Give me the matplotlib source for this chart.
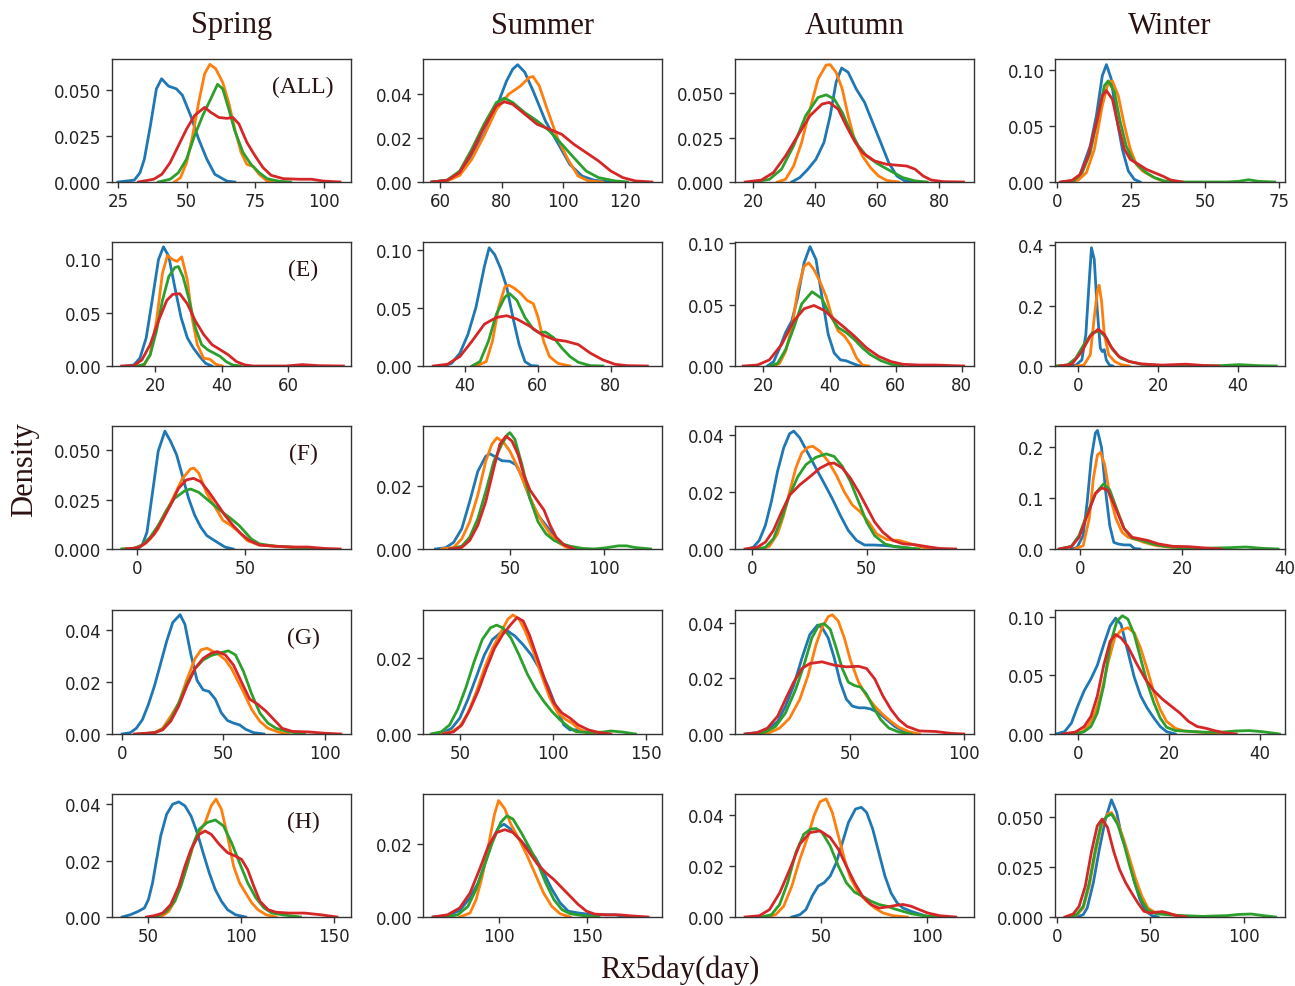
import matplotlib
matplotlib.use("Agg")
import matplotlib.pyplot as plt
from matplotlib.ticker import FormatStrFormatter

# KDE curves: each curve is (x values, density values)
# colour order in every panel: blue, orange, green, red

spring_all = {
    "blue": ([25, 30.9, 33, 34.6, 36.8, 39, 40.9, 43.4, 46.3, 48.5, 51.5, 54.4, 57.4, 60.3, 64.7, 67.6],
             [0, 0.001, 0.005, 0.0124, 0.0305, 0.0505, 0.056, 0.052, 0.0505, 0.047, 0.036, 0.0233, 0.0124, 0.0042, 0.0005, 0]),
    "orange": ([45.6, 47.8, 50, 52.2, 54.4, 56.6, 58.5, 60.6, 63.2, 65.4, 67.6, 69.9, 72, 74.3, 76.5, 79.4, 81.5],
               [0, 0.0024, 0.0105, 0.025, 0.043, 0.0587, 0.0638, 0.0615, 0.054, 0.043, 0.0287, 0.016, 0.0096, 0.0084, 0.0042, 0.0005, 0]),
    "green": ([39.7, 44, 47, 50, 52.9, 55.9, 58.8, 61.3, 63.2, 65.4, 67.6, 70.6, 73.5, 76.5, 79.4, 83.8, 88],
              [0, 0.0015, 0.005, 0.0124, 0.025, 0.036, 0.045, 0.053, 0.0505, 0.0396, 0.0278, 0.016, 0.0096, 0.0051, 0.0018, 0.0004, 0]),
    "red": ([32.4, 38, 41, 44, 47, 50, 52.9, 56.6, 58.8, 61.8, 64.7, 66.9, 69.1, 72, 75, 77.9, 80.9, 85.3, 91.2, 95.6, 100, 106],
            [0, 0.0015, 0.0042, 0.0105, 0.0196, 0.0287, 0.036, 0.0405, 0.0378, 0.035, 0.0345, 0.035, 0.0315, 0.0215, 0.0142, 0.0078, 0.0036, 0.0018, 0.0015, 0.0015, 0.0005, 0]),
}

summer_all = {
    "blue": ([57.4, 62.4, 66.4, 70.3, 74.3, 78.3, 81.6, 83.6, 85.2, 87.5, 90.2, 94.2, 98.1, 102.1, 106.1, 110, 115.4],
             [0, 0.0008, 0.0043, 0.0119, 0.0217, 0.034, 0.046, 0.0514, 0.0534, 0.050, 0.0415, 0.0278, 0.018, 0.008, 0.0027, 0.0008, 0]),
    "orange": ([57.4, 62.4, 66.4, 70.3, 74.3, 78.3, 82.3, 86.2, 88.9, 90.2, 92.2, 94.8, 98.1, 101.5, 104.8, 108.1, 112.7],
               [0, 0.0005, 0.003, 0.0103, 0.021, 0.033, 0.040, 0.0438, 0.0476, 0.048, 0.0438, 0.033, 0.020, 0.0103, 0.0027, 0.0005, 0]),
    "green": ([57.4, 62.4, 66.4, 70.3, 74.3, 78.3, 80.9, 83.6, 87.5, 91.5, 95.5, 99.5, 103.4, 107.4, 111.4, 116.7, 120.8],
              [0, 0.0009, 0.005, 0.0149, 0.0263, 0.0362, 0.0382, 0.0362, 0.0316, 0.0278, 0.0233, 0.0172, 0.0111, 0.005, 0.002, 0.0005, 0]),
    "red": ([57.4, 62.4, 66.4, 70.3, 74.3, 78.3, 80.9, 83.6, 87.5, 91.5, 95.5, 99.5, 103.4, 107.4, 111.4, 115.4, 119.3, 123.3, 128.7],
            [0, 0.0008, 0.0043, 0.0134, 0.0248, 0.0347, 0.0365, 0.0354, 0.0309, 0.0263, 0.024, 0.0217, 0.0172, 0.0134, 0.0096, 0.005, 0.002, 0.0005, 0]),
}

autumn_all = {
    "blue": ([32.4, 35, 37.6, 40.2, 42.8, 44.8, 46.7, 48.5, 50.6, 53.2, 55.9, 58.5, 61.1, 63.7, 66.3, 68.9, 71.5],
             [0, 0.0025, 0.0072, 0.0128, 0.0223, 0.0374, 0.0562, 0.0643, 0.0619, 0.0525, 0.0449, 0.0336, 0.0223, 0.0109, 0.0034, 0.0006, 0]),
    "orange": ([27.8, 30.4, 33, 35.6, 38.3, 40.9, 43.5, 44.8, 46.7, 48.7, 50.6, 52.6, 55.2, 57.8, 60.4, 63, 66.9],
               [0, 0.0015, 0.009, 0.0223, 0.0411, 0.0581, 0.066, 0.0662, 0.0619, 0.0525, 0.0374, 0.0242, 0.0147, 0.0081, 0.0034, 0.0009, 0]),
    "green": ([20, 25.2, 29.1, 33, 36.9, 40.9, 43.5, 46.1, 48.7, 51.3, 53.9, 56.5, 60.4, 64.3, 68.2, 72.2, 76.1],
              [0, 0.0015, 0.0072, 0.0204, 0.0374, 0.0477, 0.0492, 0.0468, 0.0392, 0.0289, 0.0204, 0.0147, 0.010, 0.0062, 0.0025, 0.0006, 0]),
    "red": ([17.4, 22.6, 26.5, 30.4, 34.3, 38.3, 42.2, 44.5, 47.4, 50, 52.6, 55.2, 59.1, 63, 67, 69.5, 72.2, 74.8, 77.4, 81.3, 87.8],
            [0, 0.0011, 0.0053, 0.0147, 0.026, 0.0374, 0.044, 0.0449, 0.0411, 0.0317, 0.0232, 0.0166, 0.0119, 0.010, 0.0094, 0.009, 0.0072, 0.0034, 0.0011, 0.0002, 0]),
}

winter_all = {
    "blue": ([4.3, 7.1, 9.1, 11.1, 13.2, 15.2, 16.6, 18.2, 19.9, 22, 24, 26, 28],
             [0, 0.0024, 0.0173, 0.032, 0.059, 0.0946, 0.1045, 0.092, 0.059, 0.029, 0.0098, 0.0024, 0]),
    "orange": ([3.7, 7.1, 9.8, 12.5, 15.2, 17.2, 18.6, 20.6, 22.7, 24.7, 26.7, 28.8, 30.8, 32.8, 35.5, 38.2],
               [0, 0.0018, 0.0083, 0.029, 0.068, 0.0887, 0.090, 0.0768, 0.05, 0.029, 0.0158, 0.0098, 0.0068, 0.0039, 0.0009, 0]),
    "green": ([1.6, 5.7, 8.4, 11.1, 13.8, 15.9, 17.2, 19.3, 21.3, 23.3, 25.4, 27.4, 30.1, 32.8, 36.2, 41, 57.3, 61.3, 64.7, 68.1, 73.5],
              [0, 0.0015, 0.0083, 0.026, 0.059, 0.0857, 0.090, 0.080, 0.053, 0.032, 0.020, 0.0143, 0.0083, 0.0039, 0.0009, 0, 0, 0.0006, 0.002, 0.0006, 0]),
    "red": ([1, 5, 7.7, 10.4, 13.2, 15.2, 16.6, 18.6, 20.6, 22.7, 24.7, 27.4, 30.1, 32.8, 35.5, 38.3, 42.3],
            [0, 0.0015, 0.0068, 0.023, 0.053, 0.0768, 0.0813, 0.0738, 0.05, 0.029, 0.020, 0.0158, 0.0113, 0.0083, 0.0054, 0.0018, 0]),
}

spring_e = {
    "blue": ([11.1, 13.6, 15.4, 17.3, 19.1, 21, 22.5, 24.1, 25.9, 27.8, 29.7, 31.5, 33.4, 35.2, 37.1],
             [0, 0.001, 0.0073, 0.0263, 0.0613, 0.0994, 0.1114, 0.1025, 0.074, 0.0454, 0.0263, 0.0168, 0.0089, 0.0025, 0]),
    "orange": ([14.8, 16.7, 18.5, 20.4, 22.2, 23.7, 25.3, 26.6, 28, 29.7, 31.1, 32.7, 34.6, 36.5, 38.3, 40.2],
               [0, 0.001, 0.0105, 0.042, 0.0867, 0.1032, 0.0994, 0.0978, 0.102, 0.0803, 0.0454, 0.02, 0.0073, 0.0063, 0.0016, 0]),
    "green": ([14.8, 16.7, 18.5, 20.4, 22.2, 24.1, 25.9, 27, 28.4, 30.3, 32.1, 34, 35.8, 37.7, 39.6, 41.4, 43.3, 45.7],
              [0, 0.0016, 0.0105, 0.0327, 0.0613, 0.0835, 0.092, 0.093, 0.0835, 0.0613, 0.0359, 0.02, 0.0152, 0.0121, 0.0089, 0.0041, 0.001, 0]),
    "red": ([9.9, 13.6, 16, 18.5, 21, 23.5, 25.3, 27.4, 29.7, 32.1, 34.6, 37.1, 39.6, 42, 44.5, 47, 49.5, 59.4, 64.3, 69.3, 76.7],
            [0, 0.0003, 0.0057, 0.02, 0.0422, 0.0613, 0.067, 0.0676, 0.0581, 0.0422, 0.0295, 0.02, 0.0152, 0.0105, 0.0041, 0.001, 0, 0, 0.0013, 0.0003, 0]),
}

summer_e = {
    "blue": ([34.2, 36.4, 38.7, 40.9, 43.1, 45.4, 46.7, 48.2, 49.8, 51.5, 53.2, 54.9, 56.5, 58.2, 59.9],
             [0, 0.0023, 0.0111, 0.0273, 0.0507, 0.0859, 0.102, 0.0962, 0.0845, 0.0683, 0.0419, 0.0185, 0.0038, 0.0003, 0]),
    "orange": ([43.2, 45.9, 47.6, 49.3, 51, 52.1, 53.7, 55.4, 57.1, 58.8, 60.1, 61.6, 63.2, 65.5, 68.8],
               [0, 0.0038, 0.0214, 0.0507, 0.0683, 0.0698, 0.0669, 0.0625, 0.0566, 0.0537, 0.0419, 0.0214, 0.0082, 0.0023, 0]),
    "green": ([42, 44.2, 46.5, 48.7, 51, 52.3, 54.3, 56.5, 58.8, 60.4, 62.1, 64.4, 66.6, 68.8, 71.1, 74.4, 77.8],
              [0, 0.0038, 0.0214, 0.0449, 0.0595, 0.0625, 0.0566, 0.0419, 0.0317, 0.0287, 0.0293, 0.0243, 0.0155, 0.0082, 0.0032, 0.0003, 0]),
    "red": ([31.4, 35.3, 38.7, 42, 45.4, 48.7, 51.5, 54.3, 57.7, 61, 64.4, 67.7, 71.1, 74.4, 77.8, 81.1, 84.5, 90],
            [0, 0.0015, 0.0082, 0.0214, 0.0361, 0.0419, 0.0434, 0.0405, 0.0346, 0.0273, 0.0229, 0.0214, 0.0185, 0.0111, 0.0053, 0.0015, 0.0003, 0]),
}

autumn_e = {
    "blue": ([21.2, 23.1, 24.9, 26.7, 28.6, 30.4, 32.3, 34.1, 35.9, 37.7, 39.6, 41.4, 43.3, 45.1, 46.9, 48.8, 50.6],
             [0, 0.0036, 0.0147, 0.0272, 0.0369, 0.0564, 0.0842, 0.0975, 0.0869, 0.0564, 0.0258, 0.0106, 0.005, 0.0042, 0.0022, 0.0003, 0]),
    "orange": ([23.1, 24.9, 26.7, 28.6, 30.4, 32.3, 33.7, 35.3, 37.1, 39, 40.8, 42.6, 44.5, 46.3, 48.2, 50, 51.8],
               [0, 0.0022, 0.0119, 0.0314, 0.0619, 0.0814, 0.0842, 0.0786, 0.0689, 0.0564, 0.0397, 0.0286, 0.0244, 0.0175, 0.0064, 0.0008, 0]),
    "green": ([21.8, 24.3, 26.7, 29.2, 31.6, 34.7, 37.7, 40.2, 42.6, 45.1, 47.5, 50, 52.4, 55.5, 58.6, 62.2],
              [0, 0.0022, 0.0133, 0.0314, 0.0508, 0.0606, 0.055, 0.0411, 0.0314, 0.0272, 0.0217, 0.0147, 0.0092, 0.0044, 0.0014, 0]),
    "red": ([13.9, 18.2, 21.8, 25.5, 29.2, 32.3, 35.3, 38.4, 41.4, 44.5, 47.5, 51.2, 54.9, 58.6, 62.2, 67.1, 72, 76.9, 80.6],
            [0, 0.0008, 0.005, 0.0175, 0.0369, 0.0467, 0.0494, 0.0453, 0.0383, 0.0314, 0.0244, 0.0147, 0.0078, 0.0036, 0.0014, 0.0008, 0.0008, 0.0003, 0]),
}

winter_e = {
    "blue": ([-2, -0.5, 1, 2, 2.8, 3.4, 4.1, 4.8, 5.6, 6.1, 6.6, 7.1, 7.9, 8.7],
             [0, 0.003, 0.02, 0.105, 0.274, 0.392, 0.353, 0.195, 0.06, 0.048, 0.054, 0.02, 0.003, 0]),
    "orange": ([-0.5, 1.5, 3.1, 4.1, 4.9, 5.3, 5.9, 6.6, 7.7, 9.2, 10.7, 12.8],
               [0, 0.003, 0.037, 0.161, 0.25, 0.268, 0.217, 0.105, 0.037, 0.015, 0.005, 0]),
    "green": ([-6.1, -2.6, -0.5, 1.5, 3.6, 5.4, 7.1, 8.7, 10.7, 12.8, 15.8, 19.9, 25, 35.2, 40.3, 45.4, 49.5],
              [0, 0.003, 0.026, 0.071, 0.11, 0.116, 0.094, 0.054, 0.026, 0.015, 0.006, 0.002, 0.001, 0.001, 0.0045, 0.001, 0]),
    "red": ([-4.6, -1.5, 1, 3.1, 5.1, 6.6, 8.2, 10.2, 12.8, 15.8, 20.9, 27, 31.1, 35.2],
            [0, 0.006, 0.048, 0.099, 0.122, 0.105, 0.065, 0.032, 0.015, 0.007, 0.003, 0.006, 0.002, 0]),
}

spring_f = {
    "blue": ([0, 2.2, 4.5, 6.9, 9.7, 12.8, 15.4, 18.2, 21, 23.8, 26.6, 29.4, 32.2, 35, 37.8, 40.6, 44.4],
             [0, 0.0017, 0.0085, 0.0273, 0.0495, 0.0597, 0.0546, 0.0478, 0.0367, 0.0256, 0.0171, 0.0111, 0.0068, 0.0048, 0.0029, 0.001, 0]),
    "orange": ([-7.1, -1.5, 2.2, 6, 9.7, 13.5, 17.2, 21, 24.7, 26.2, 28.5, 32.2, 36, 39.7, 43.4, 47.2, 50.9, 56.6, 64, 71.5, 79, 86.5],
               [0, 0.0003, 0.0017, 0.0051, 0.0102, 0.0188, 0.0273, 0.0358, 0.0406, 0.041, 0.0384, 0.0282, 0.0213, 0.0145, 0.0119, 0.0085, 0.0043, 0.002, 0.0014, 0.0009, 0.0003, 0]),
    "green": ([-7.1, -1.5, 2.2, 6, 9.7, 13.5, 17.2, 21.9, 24.7, 28.5, 32.2, 36, 39.7, 43.4, 47.2, 50, 52.8, 56.6, 64, 75.3, 86.5],
              [0, 0.0003, 0.002, 0.006, 0.0119, 0.0196, 0.0256, 0.0294, 0.0304, 0.0287, 0.0253, 0.0218, 0.0184, 0.0154, 0.0119, 0.0085, 0.0051, 0.0026, 0.0014, 0.0007, 0]),
    "red": ([-5.2, 0.4, 4.1, 7.9, 11.6, 15.4, 19.1, 22.8, 26, 29.4, 33.1, 36.9, 40.6, 44.4, 48.1, 51.9, 56.6, 64, 71.5, 79, 86.5, 94],
            [0, 0.0007, 0.0031, 0.0077, 0.0145, 0.0222, 0.0307, 0.035, 0.0358, 0.0341, 0.029, 0.023, 0.0171, 0.0119, 0.0077, 0.0043, 0.002, 0.0014, 0.001, 0.001, 0.0003, 0]),
}

summer_f = {
    "blue": ([10.6, 16, 20.2, 24.5, 28.7, 33, 37.2, 39.4, 42.6, 45.7, 50, 53.2, 56.4, 60.6, 64.9, 69.1, 73.4, 77.7, 81.9, 86.2],
             [0, 0.0004, 0.0021, 0.0064, 0.015, 0.0246, 0.0294, 0.0302, 0.0291, 0.028, 0.0278, 0.0267, 0.023, 0.016, 0.0107, 0.0075, 0.0043, 0.0016, 0.0005, 0]),
    "orange": ([13.8, 20.2, 24.5, 28.7, 33, 37.2, 40.4, 43.2, 46.8, 50, 54.3, 58.5, 62.8, 67, 71.3, 75.5, 79.8, 84],
               [0, 0.0005, 0.0032, 0.0086, 0.0171, 0.0278, 0.0332, 0.0353, 0.0337, 0.031, 0.0257, 0.0193, 0.0134, 0.0086, 0.0048, 0.0021, 0.0006, 0]),
    "green": ([18.1, 24.5, 28.7, 33, 37.2, 41.5, 45.7, 48.9, 50, 52.6, 56.4, 60.6, 64.9, 69.1, 73.4, 77.7, 81.9, 88.3, 94.7, 101.1, 107.4, 111.7, 116, 124.5],
              [0, 0.0009, 0.0037, 0.0096, 0.0182, 0.0278, 0.0332, 0.0364, 0.0369, 0.0348, 0.0267, 0.016, 0.0086, 0.0048, 0.0027, 0.0016, 0.0009, 0.0002, 0, 0.0004, 0.001, 0.001, 0.0005, 0]),
    "red": ([18.1, 24.5, 28.7, 33, 37.2, 41.5, 44.7, 47.9, 51.1, 54.3, 57.4, 60.6, 64.9, 68.1, 71.3, 74.5, 78.7, 84],
            [0, 0.0005, 0.0027, 0.0075, 0.015, 0.0257, 0.0332, 0.0358, 0.0342, 0.030, 0.0235, 0.0187, 0.015, 0.0123, 0.0075, 0.0037, 0.0013, 0]),
}

autumn_f = {
    "blue": ([-2.3, 0.4, 3, 5.7, 8.3, 11, 13.7, 16.3, 18.1, 20.7, 24.3, 27.8, 31.4, 34.9, 38.5, 42, 45.6, 49.1, 53.5, 58, 62.4, 66.8, 71.3],
             [0, 0.0006, 0.003, 0.0083, 0.0166, 0.0272, 0.0355, 0.0405, 0.0414, 0.0391, 0.0337, 0.0284, 0.0231, 0.0178, 0.0118, 0.0065, 0.003, 0.0014, 0.0014, 0.0012, 0.0009, 0.0005, 0]),
    "orange": ([3.9, 7.4, 11, 13.7, 16.3, 19, 21.6, 24.3, 26.4, 29.6, 33.2, 36.7, 40.2, 43.8, 47.3, 50.9, 54.4, 58.9, 64.2, 69.5, 74.8, 80.1],
               [0, 0.0009, 0.0053, 0.0118, 0.0201, 0.0284, 0.0337, 0.0357, 0.0361, 0.0343, 0.0308, 0.026, 0.0201, 0.0154, 0.013, 0.0095, 0.0053, 0.0033, 0.003, 0.0018, 0.0005, 0]),
    "green": ([2.1, 5.7, 9.2, 12.8, 16.3, 19.9, 23.4, 27.8, 32.3, 35.8, 39.4, 42.9, 46.5, 50, 53.5, 58, 62.4, 67.7, 73],
              [0, 0.0006, 0.0036, 0.0107, 0.0189, 0.0254, 0.0296, 0.0322, 0.0334, 0.0325, 0.029, 0.0237, 0.0166, 0.0095, 0.0047, 0.0018, 0.0008, 0.0004, 0]),
    "red": ([-3.2, 2.1, 5.7, 9.2, 12.8, 16.3, 20.7, 25.2, 29.6, 33.2, 35.8, 39.4, 42.9, 46.5, 50, 53.5, 57.1, 61.5, 66, 71.3, 76.6, 81.9, 89],
            [0, 0.0006, 0.0024, 0.0065, 0.013, 0.0189, 0.0225, 0.0254, 0.0284, 0.0299, 0.0302, 0.0284, 0.0249, 0.0201, 0.0148, 0.0095, 0.0059, 0.003, 0.0018, 0.0015, 0.0008, 0.0002, 0]),
}

winter_f = {
    "blue": ([-1.7, -0.6, 0.6, 1.4, 2.2, 3, 3.4, 4.2, 5, 5.8, 6.6, 7.4, 8.6, 9.8, 10.6, 11.7],
             [0, 0.003, 0.0265, 0.093, 0.179, 0.228, 0.233, 0.199, 0.113, 0.046, 0.013, 0.01, 0.008, 0.008, 0.001, 0]),
    "orange": ([-1, 0.6, 1.8, 2.6, 3.4, 4, 4.8, 5.8, 7, 8.2, 9.4, 11, 12.5, 14.9, 18.1, 21.3, 24.4],
               [0, 0.0066, 0.06, 0.139, 0.185, 0.19, 0.166, 0.106, 0.06, 0.033, 0.023, 0.0185, 0.013, 0.0066, 0.003, 0.0026, 0]),
    "green": ([-4.1, -1.7, -0.2, 1.4, 3, 4.6, 5.8, 7, 8.6, 10.2, 12.1, 14.1, 16.5, 19.7, 23.7, 29.2, 32.4, 35.6, 38.7],
              [0, 0.0053, 0.0265, 0.0695, 0.109, 0.128, 0.116, 0.083, 0.04, 0.021, 0.0166, 0.01, 0.0053, 0.0026, 0.0013, 0.0026, 0.004, 0.0013, 0]),
    "red": ([-4.1, -1.7, -0.2, 1.4, 3, 4.2, 5.4, 7, 8.6, 10.2, 11.7, 13.3, 15.3, 18.1, 21.3, 24.4, 27.6],
            [0, 0.0046, 0.023, 0.066, 0.109, 0.12, 0.116, 0.079, 0.04, 0.023, 0.02, 0.0166, 0.01, 0.0053, 0.0046, 0.002, 0]),
}

spring_g = {
    "blue": ([0, 4, 7, 10, 13, 16, 19, 22, 25, 28.6, 31, 34, 37, 40, 43, 46, 49, 52, 55, 58, 61, 65, 70],
             [0, 0.0005, 0.0022, 0.0055, 0.0114, 0.0186, 0.0271, 0.0357, 0.0429, 0.0459, 0.0422, 0.0304, 0.0206, 0.017, 0.0163, 0.0134, 0.0081, 0.0052, 0.0042, 0.0035, 0.0018, 0.0005, 0]),
    "orange": ([10, 16, 20, 24, 28, 32, 36, 39, 42, 45, 48, 51, 54, 57, 60, 64, 68, 72, 77, 82],
               [0, 0.0005, 0.0022, 0.0068, 0.012, 0.021, 0.029, 0.0324, 0.033, 0.0317, 0.0304, 0.0285, 0.0252, 0.0206, 0.016, 0.0094, 0.0049, 0.0022, 0.0008, 0]),
    "green": ([8, 16, 20, 24, 28, 32, 36, 40, 44, 48, 52.5, 56, 60, 64, 68, 72, 76, 82, 90],
              [0, 0.0005, 0.0018, 0.0055, 0.012, 0.0193, 0.0252, 0.0285, 0.0302, 0.0311, 0.032, 0.0304, 0.0239, 0.0153, 0.0081, 0.0042, 0.0022, 0.0009, 0]),
    "red": ([6, 16, 20, 24, 28, 32, 36, 40, 44, 47, 51, 55, 59, 63, 67, 71, 75, 79, 84, 92, 100, 108],
            [0, 0.0005, 0.0016, 0.0049, 0.0108, 0.0186, 0.0252, 0.0291, 0.0311, 0.0317, 0.0304, 0.0265, 0.0199, 0.0134, 0.0114, 0.0088, 0.0055, 0.0022, 0.001, 0.0008, 0.0003, 0]),
}

summer_g = {
    "blue": ([35.7, 41.2, 45.6, 50, 54.4, 58.8, 63.2, 67.6, 72, 75.3, 79.7, 84.1, 88.5, 92.9, 97.3, 101.6, 106, 109.3, 113.7, 119.2, 124.7],
             [0, 0.0004, 0.0015, 0.0042, 0.0092, 0.015, 0.0209, 0.025, 0.0268, 0.0274, 0.0259, 0.0236, 0.0209, 0.0173, 0.0128, 0.0074, 0.0024, 0.0011, 0.0011, 0.0004, 0]),
    "orange": ([40.1, 45.6, 50, 54.4, 58.8, 63.2, 67.6, 72, 75.9, 78.6, 81.9, 85.2, 89.6, 94, 98.4, 102.7, 107.1, 110.4, 113.7, 118.1, 123.6],
               [0, 0.0006, 0.002, 0.0056, 0.011, 0.0173, 0.0227, 0.0268, 0.0304, 0.0315, 0.0304, 0.0272, 0.0218, 0.0155, 0.0096, 0.0056, 0.0038, 0.0029, 0.0015, 0.0004, 0]),
    "green": ([34.6, 40.1, 44.5, 48.9, 53.3, 57.7, 62.1, 66.5, 69.8, 73.1, 77.5, 81.9, 86.3, 90.7, 95.1, 99.5, 103.8, 108.2, 112.6, 119.2, 126.9, 131.3, 137.9, 144.5],
              [0, 0.0006, 0.0024, 0.0065, 0.0123, 0.0191, 0.025, 0.0281, 0.0288, 0.0281, 0.0254, 0.0209, 0.0159, 0.0119, 0.0087, 0.006, 0.0038, 0.002, 0.0006, 0.0004, 0.0005, 0.0008, 0.0005, 0]),
    "red": ([41.2, 46.7, 51.1, 55.5, 59.9, 64.3, 68.7, 73.1, 77.5, 80.8, 84.1, 87.4, 91.8, 96.2, 100.5, 104.9, 109.3, 113.7, 119.2, 124.7, 131.3],
            [0, 0.0006, 0.0024, 0.0065, 0.0114, 0.0173, 0.0227, 0.0263, 0.029, 0.0308, 0.0299, 0.0263, 0.020, 0.0137, 0.0083, 0.0056, 0.0042, 0.0024, 0.0011, 0.0004, 0]),
}

autumn_g = {
    "blue": ([3.6, 8.9, 13.4, 17.9, 21.4, 25, 28.6, 32.1, 35.5, 37.5, 40.2, 42.9, 45.5, 48.2, 50.9, 53.6, 56.3, 58.9, 62.5, 66.1, 69.6, 73.2, 78.6],
             [0, 0.0005, 0.0015, 0.0045, 0.01, 0.0174, 0.0272, 0.0357, 0.0391, 0.0382, 0.0345, 0.0272, 0.0186, 0.0125, 0.010, 0.0094, 0.0094, 0.009, 0.0076, 0.0051, 0.0027, 0.0011, 0]),
    "orange": ([8.9, 14.3, 18.75, 23.2, 27.7, 31.3, 34.8, 37.5, 40.2, 42, 44.6, 47.3, 50, 53.6, 57.1, 60.7, 64.3, 67.9, 71.4, 75.9, 80.4],
               [0, 0.0005, 0.0021, 0.0057, 0.0125, 0.021, 0.032, 0.0382, 0.0421, 0.0428, 0.0406, 0.0345, 0.0265, 0.0186, 0.0137, 0.010, 0.007, 0.0045, 0.0024, 0.0008, 0]),
    "green": ([7.1, 12.5, 17, 21.4, 25.9, 29.5, 33, 36.1, 38.4, 41.1, 43.75, 46.4, 49.1, 51.8, 54.5, 57.1, 59.8, 63.4, 67, 71.4, 76.8],
              [0, 0.0007, 0.0027, 0.0076, 0.0161, 0.0247, 0.0345, 0.0391, 0.0396, 0.0376, 0.0308, 0.0235, 0.0186, 0.0174, 0.0168, 0.0143, 0.010, 0.0051, 0.0021, 0.0007, 0]),
    "red": ([3.6, 8.9, 13.4, 17.9, 21.4, 25, 28.6, 32.1, 37.5, 42.9, 48.2, 53.6, 57.1, 60.7, 64.3, 67.9, 71.4, 75, 80.4, 87.5, 94.6, 100],
            [0, 0.0005, 0.0021, 0.0064, 0.0125, 0.0186, 0.0235, 0.0253, 0.0259, 0.0247, 0.0241, 0.0243, 0.0235, 0.0198, 0.0137, 0.0088, 0.0051, 0.0027, 0.0011, 0.0009, 0.0002, 0]),
}

winter_g = {
    "blue": ([-4.8, -2.9, -1.4, 0, 1.4, 2.9, 4.3, 5.7, 7.1, 8.3, 9.5, 11, 12.4, 13.8, 15.2, 16.7, 18.1, 19.5, 21.4],
             [0, 0.002, 0.0093, 0.0238, 0.0369, 0.0471, 0.0587, 0.0762, 0.0922, 0.0988, 0.0936, 0.0703, 0.0485, 0.0326, 0.0224, 0.0137, 0.0064, 0.002, 0]),
    "orange": ([-1, 1, 2.4, 3.8, 5.2, 6.7, 8.1, 9.5, 11, 12.4, 13.8, 15.2, 16.7, 18.1, 19.5, 21.4, 23.3, 25.2, 28.1, 31],
               [0, 0.002, 0.0078, 0.018, 0.0355, 0.0616, 0.082, 0.0884, 0.0907, 0.0863, 0.0733, 0.0558, 0.0355, 0.0209, 0.0108, 0.0049, 0.0026, 0.002, 0.0012, 0]),
    "green": ([-0.5, 1.4, 2.9, 4.3, 5.7, 7.1, 8.6, 9.8, 11, 12.4, 13.8, 15.2, 16.7, 18.1, 19.5, 21.4, 24.3, 28.1, 31.9, 34.8, 37.6, 40.5, 44.3],
              [0, 0.002, 0.0064, 0.018, 0.0413, 0.0762, 0.0965, 0.1009, 0.098, 0.0849, 0.0645, 0.0442, 0.0267, 0.0137, 0.0058, 0.0029, 0.0023, 0.0015, 0.0017, 0.0026, 0.0029, 0.002, 0]),
    "red": ([-3.3, -0.5, 1.4, 2.9, 4.3, 5.7, 7.1, 8.3, 9.5, 11, 12.9, 14.8, 16.7, 18.6, 20.5, 22.4, 24.3, 26.2, 28.1, 30, 31.9, 34.8],
            [0, 0.0017, 0.0064, 0.0151, 0.0326, 0.0587, 0.0791, 0.0849, 0.082, 0.0747, 0.0602, 0.0471, 0.0369, 0.0297, 0.0238, 0.018, 0.0108, 0.0064, 0.0049, 0.0029, 0.0012, 0]),
}

spring_h = {
    "blue": ([35.8, 40.2, 44.5, 47.8, 50, 52.2, 54.4, 56.6, 59.8, 63.1, 66.4, 69.7, 73, 76.3, 79.5, 82.8, 86.1, 89.4, 92.7, 97, 102.5],
             [0, 0.0008, 0.002, 0.0032, 0.0062, 0.0121, 0.0204, 0.0287, 0.0364, 0.040, 0.0408, 0.0394, 0.0358, 0.0299, 0.0228, 0.0157, 0.0097, 0.0056, 0.0026, 0.0008, 0]),
    "orange": ([53.3, 57.7, 60.9, 64.2, 67.5, 70.8, 74.1, 77.4, 80.6, 83.9, 86.5, 89.4, 92.7, 96, 99.2, 102.5, 105.8, 109.1, 113.5, 118.9],
               [0, 0.0005, 0.002, 0.0056, 0.0115, 0.018, 0.0251, 0.0299, 0.0335, 0.0394, 0.0418, 0.0382, 0.0287, 0.018, 0.0121, 0.0085, 0.005, 0.0026, 0.0008, 0]),
    "green": ([51.1, 55.5, 59.8, 64.2, 67.5, 70.8, 74.1, 77.4, 81.7, 86.1, 90.5, 94.9, 99.2, 103.6, 108, 112.4, 116.7, 123.3, 132.1],
              [0, 0.0005, 0.002, 0.0056, 0.0109, 0.018, 0.0257, 0.0311, 0.0335, 0.0344, 0.0323, 0.0263, 0.0192, 0.0121, 0.0068, 0.0032, 0.0014, 0.0007, 0]),
    "red": ([48.9, 53.3, 57.7, 62, 66.4, 69.7, 73, 77.4, 80.6, 83.9, 88.3, 92.7, 97, 100.3, 103.6, 106.9, 110.2, 114.6, 118.9, 125.5, 134.2, 143, 151.8],
            [0, 0.0005, 0.0014, 0.0044, 0.0109, 0.018, 0.024, 0.0293, 0.0305, 0.0293, 0.0257, 0.0228, 0.0216, 0.0204, 0.0168, 0.0109, 0.0056, 0.0026, 0.0017, 0.0014, 0.0014, 0.0008, 0]),
}

summer_h = {
    "blue": ([63.1, 71.2, 78.1, 83.9, 88.5, 93.1, 96.5, 100, 103, 106.9, 111.5, 116.1, 120.7, 125.3, 130, 134.6, 139.2, 144.9, 151.8, 158.8, 165.7, 172.6],
             [0, 0.0004, 0.0018, 0.0053, 0.0094, 0.0159, 0.0214, 0.0246, 0.0255, 0.0241, 0.0214, 0.0191, 0.0163, 0.0122, 0.0076, 0.0039, 0.0016, 0.0011, 0.0007, 0.0006, 0.0006, 0]),
    "orange": ([78.1, 83.9, 87.3, 90.8, 94.2, 97.7, 100, 103.5, 106.9, 111.5, 116.1, 120.7, 125.3, 130, 134.6, 140.3],
               [0, 0.0011, 0.0048, 0.0112, 0.0195, 0.0283, 0.032, 0.0297, 0.0255, 0.0214, 0.0168, 0.0117, 0.0066, 0.0029, 0.0009, 0]),
    "green": ([70, 77, 82.7, 87.3, 91.9, 96.5, 101.2, 104.6, 108.1, 112.7, 117.3, 121.9, 126.5, 131.1, 135.7, 140.3, 147.2, 156.5],
              [0, 0.0006, 0.0029, 0.0076, 0.014, 0.0205, 0.026, 0.0278, 0.0269, 0.0232, 0.0191, 0.0149, 0.0094, 0.0048, 0.002, 0.0009, 0.0004, 0]),
    "red": ([63.1, 71.2, 78.1, 83.9, 89.6, 94.2, 98.8, 103.5, 108.1, 112.7, 117.3, 121.9, 126.5, 131.1, 135.7, 140.3, 144.9, 149.5, 154.1, 161.1, 168, 174.9, 184.1],
            [0, 0.0006, 0.0025, 0.0066, 0.0135, 0.0195, 0.0232, 0.024, 0.0232, 0.0209, 0.0177, 0.0145, 0.0122, 0.0103, 0.008, 0.0057, 0.0034, 0.0016, 0.0008, 0.0006, 0.0006, 0.0003, 0]),
}

autumn_h = {
    "blue": ([36, 39.8, 42.7, 45.6, 48.5, 51.3, 54.2, 57.1, 60, 62.9, 66.2, 69, 71.5, 74.4, 77.3, 80.2, 83.1, 86, 88.8, 92.7, 96.5, 101.3],
             [0, 0.0009, 0.0029, 0.0081, 0.0121, 0.0134, 0.016, 0.0212, 0.0291, 0.037, 0.0422, 0.0429, 0.0409, 0.0344, 0.0252, 0.016, 0.0094, 0.0055, 0.0035, 0.0022, 0.0012, 0]),
    "orange": ([23.5, 28.3, 32.1, 36, 39.8, 43.7, 46.5, 49.4, 52.3, 55.2, 58.1, 61, 63.8, 67.7, 71.5, 75.4, 79.2, 84, 90.8],
               [0, 0.0009, 0.0042, 0.0121, 0.0226, 0.0317, 0.0396, 0.0451, 0.0462, 0.0409, 0.0317, 0.0226, 0.0153, 0.0094, 0.0062, 0.0035, 0.0016, 0.0005, 0]),
    "green": ([21.5, 26.3, 30.2, 34, 37.9, 41.7, 45, 47.5, 50.4, 54.2, 58.1, 61.9, 65.8, 69.6, 73.5, 77.3, 81.2, 85, 88.8, 92.7, 98.5, 106.2],
              [0, 0.0009, 0.0049, 0.0134, 0.0252, 0.0324, 0.0344, 0.0346, 0.033, 0.0278, 0.0199, 0.0134, 0.0097, 0.0081, 0.0062, 0.0049, 0.0042, 0.0031, 0.0022, 0.0013, 0.0005, 0]),
    "red": ([13.8, 20.6, 25.4, 30.2, 35, 39.8, 44.6, 49.4, 54.2, 58.1, 61.9, 65.8, 69.6, 73.5, 77.3, 81.2, 85, 88.8, 92.7, 96.5, 100.4, 106.2, 113.8],
            [0, 0.0005, 0.0029, 0.0094, 0.0186, 0.0285, 0.033, 0.0337, 0.0311, 0.0265, 0.0199, 0.0134, 0.0081, 0.0049, 0.0035, 0.0039, 0.0045, 0.0049, 0.0042, 0.0029, 0.0016, 0.0005, 0]),
}

winter_h = {
    "blue": ([10.8, 14.1, 16.2, 19.5, 22.7, 26, 29.2, 32, 34.6, 37.9, 41.1, 44.4, 47.6, 50.9, 54.1],
             [0, 0.0012, 0.0045, 0.0172, 0.034, 0.0492, 0.0589, 0.0525, 0.0407, 0.0315, 0.0189, 0.0088, 0.0029, 0.0007, 0]),
    "orange": ([7.6, 10.8, 14.1, 17.3, 20.6, 23.8, 27.1, 29.2, 32.5, 35.7, 39, 42.2, 45.5, 48.7, 53, 58.4, 64.9, 71.4],
               [0, 0.0012, 0.0045, 0.0155, 0.0323, 0.0458, 0.0517, 0.0525, 0.0475, 0.0391, 0.029, 0.0189, 0.0104, 0.0045, 0.002, 0.0015, 0.0007, 0]),
    "green": ([7.6, 10.8, 14.1, 17.3, 20.6, 23.8, 27.1, 29.2, 32.5, 35.7, 39, 42.2, 45.5, 48.7, 53, 58.4, 67.1, 77.9, 90.9, 97.4, 103.9, 110.4, 116.9],
              [0, 0.0015, 0.0054, 0.0172, 0.034, 0.0475, 0.0508, 0.0517, 0.0466, 0.0374, 0.0256, 0.0155, 0.0079, 0.0034, 0.0017, 0.0012, 0.0007, 0.0003, 0.0007, 0.0013, 0.0015, 0.0007, 0]),
    "red": ([4.3, 8.7, 11.9, 15.2, 18.4, 21.6, 24.2, 27.1, 30.3, 33.5, 36.8, 40, 43.3, 46.5, 49.8, 53, 56.3, 59.5, 63.9, 69.3],
            [0, 0.0015, 0.0054, 0.0155, 0.0323, 0.0458, 0.0492, 0.045, 0.0332, 0.0239, 0.0172, 0.0121, 0.0071, 0.0029, 0.002, 0.0024, 0.0027, 0.002, 0.0007, 0]),
}

panels = [
    [spring_all, summer_all, autumn_all, winter_all],
    [spring_e, summer_e, autumn_e, winter_e],
    [spring_f, summer_f, autumn_f, winter_f],
    [spring_g, summer_g, autumn_g, winter_g],
    [spring_h, summer_h, autumn_h, winter_h],
]

seasons = ["Spring", "Summer", "Autumn", "Winter"]
regions = ["(ALL)", "(E)", "(F)", "(G)", "(H)"]

x_limits = [
    [(22.8, 110), (54.5, 132), (14.1, 91.2), (-0.8, 77)],
    [(7, 79), (28.6, 94), (11.4, 83.7), (-5.7, 51.7)],
    [(-11.7, 99), (4, 130.5), (-7.6, 97), (-4.9, 40.05)],
    [(-5, 113), (30.2, 158.8), (-0.9, 104.5), (-5, 45.5)],
    [(30.3, 159.4), (57.4, 192), (9, 122.5), (-1, 122)],
]
y_tops = [
    [0.0667, 0.056, 0.0694, 0.1095],
    [0.1159, 0.107, 0.1012, 0.411],
    [0.0623, 0.039, 0.0432, 0.2417],
    [0.0477, 0.0328, 0.0445, 0.1058],
    [0.0436, 0.0338, 0.0481, 0.0618],
]
x_ticks = [
    [[25, 50, 75, 100], [60, 80, 100, 120], [20, 40, 60, 80], [0, 25, 50, 75]],
    [[20, 40, 60], [40, 60, 80], [20, 40, 60, 80], [0, 20, 40]],
    [[0, 50], [50, 100], [0, 50], [0, 20, 40]],
    [[0, 50, 100], [50, 100, 150], [50, 100], [0, 20, 40]],
    [[50, 100, 150], [100, 150], [50, 100], [0, 50, 100]],
]
y_ticks = [
    [[0, 0.025, 0.05], [0, 0.02, 0.04], [0, 0.025, 0.05], [0, 0.05, 0.1]],
    [[0, 0.05, 0.1], [0, 0.05, 0.1], [0, 0.05, 0.1], [0, 0.2, 0.4]],
    [[0, 0.025, 0.05], [0, 0.02], [0, 0.02, 0.04], [0, 0.1, 0.2]],
    [[0, 0.02, 0.04], [0, 0.02], [0, 0.02, 0.04], [0, 0.05, 0.1]],
    [[0, 0.02, 0.04], [0, 0.02], [0, 0.02, 0.04], [0, 0.025, 0.05]],
]
y_formats = [
    ["%.3f", "%.2f", "%.3f", "%.2f"],
    ["%.2f", "%.2f", "%.2f", "%.1f"],
    ["%.3f", "%.2f", "%.2f", "%.1f"],
    ["%.2f", "%.2f", "%.2f", "%.2f"],
    ["%.2f", "%.2f", "%.2f", "%.3f"],
]

colors = {"blue": "#1f77b4", "orange": "#ff7f0e", "green": "#2ca02c", "red": "#d62728"}

# axes frames in pixels of the 1295x987 figure
W, H = 1295, 987
col_left = [112, 423, 735, 1055]
col_right = [351, 662, 974, 1285]
row_top = [60, 243, 427, 611, 795]
row_bottom = [183, 367, 550, 735, 918]

serif = ["Liberation Serif", "DejaVu Serif"]
text_col = "#2b1111"

fig = plt.figure(figsize=(W / 100, H / 100), dpi=100)

for r in range(5):
    for c in range(4):
        box = [col_left[c] / W, 1 - row_bottom[r] / H,
               (col_right[c] - col_left[c]) / W, (row_bottom[r] - row_top[r]) / H]
        ax = fig.add_axes(box)
        for name in ["blue", "orange", "green", "red"]:
            xs, ys = panels[r][c][name]
            ax.plot(xs, ys, color=colors[name], lw=2, solid_joinstyle="round")
        ax.set_xlim(*x_limits[r][c])
        ax.set_ylim(0, y_tops[r][c])
        ax.set_xticks(x_ticks[r][c])
        ax.set_yticks(y_ticks[r][c])
        ax.yaxis.set_major_formatter(FormatStrFormatter(y_formats[r][c]))
        ax.tick_params(labelsize=12, length=4, width=1, color="#333333", labelcolor="#222222")
        for s in ax.spines.values():
            s.set_color("#333333")
            s.set_linewidth(1)
        if c == 0:
            ax.text(0.8, 0.78, regions[r], transform=ax.transAxes, ha="center", va="center",
                    fontsize=17, family=serif, color=text_col)

for c in range(4):
    fig.text((col_left[c] + col_right[c]) / 2 / W, 1 - 26 / H, seasons[c], ha="center", va="center",
             fontsize=22, family=serif, color=text_col)

fig.text(25 / W, 1 - 470 / H, "Density", rotation=90, ha="center", va="center",
         fontsize=22, family=serif, color=text_col)
fig.text(680 / W, 1 - 970 / H, "Rx5day(day)", ha="center", va="center",
         fontsize=22, family=serif, color=text_col)

fig.savefig("out.png", dpi=100)
